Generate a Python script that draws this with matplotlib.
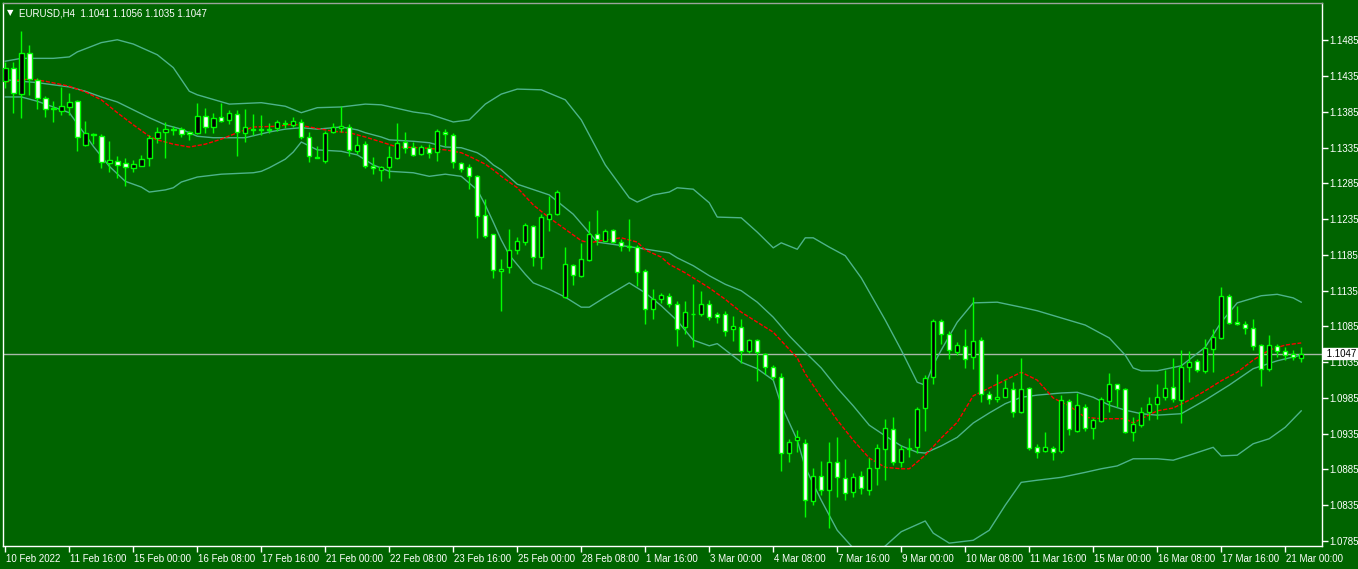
import matplotlib
matplotlib.use("Agg")
import matplotlib.pyplot as plt
from matplotlib.transforms import blended_transform_factory, ScaledTranslation
import numpy as np

plt.rcParams['font.family'] = ['Liberation Sans', 'DejaVu Sans']

# ---------------- data (EURUSD H4) ----------------
open_ = [1.1429, 1.1447, 1.1410, 1.1467, 1.1430, 1.1404, 1.1390, 1.1387, 1.1392, 1.1400,
         1.1339, 1.1354, 1.1352, 1.1313, 1.1316, 1.1313, 1.1306, 1.1310, 1.1320, 1.1349,
         1.1357, 1.1361, 1.1361, 1.1357, 1.1355, 1.1379, 1.1364, 1.1378, 1.1374, 1.1382,
         1.1356, 1.1361, 1.1361, 1.1361, 1.1362, 1.1369, 1.1367, 1.1371, 1.1350, 1.1322,
         1.1317, 1.1357, 1.1363, 1.1364, 1.1331, 1.1340, 1.1310, 1.1304, 1.1308, 1.1320,
         1.1343, 1.1336, 1.1326, 1.1335, 1.1329, 1.1357, 1.1353, 1.1313, 1.1308, 1.1296,
         1.1241, 1.1214, 1.1162, 1.1168, 1.1192, 1.1203, 1.1225, 1.1182, 1.1236, 1.1242,
         1.1126, 1.1171, 1.1155, 1.1178, 1.1214, 1.1205, 1.1220, 1.1203, 1.1197, 1.1196,
         1.1162, 1.1109, 1.1123, 1.1128, 1.1116, 1.1084, 1.1103, 1.1103, 1.1116, 1.1102,
         1.1102, 1.1081, 1.1084, 1.1051, 1.1066, 1.1047, 1.1029, 1.1015, 1.0908, 1.0926,
         1.0922, 1.0841, 1.0876, 1.0857, 1.0895, 1.0873, 1.0853, 1.0876, 1.0857, 1.0887,
         1.0913, 1.0942, 1.0896, 1.0915, 1.0916, 1.0971, 1.1015, 1.1093, 1.1074, 1.1050,
         1.1058, 1.1042, 1.1066, 1.0990, 1.0983, 1.0987, 1.0997, 1.0965, 1.0999, 1.0916,
         1.0911, 1.0915, 1.0911, 1.0981, 1.0939, 1.0973, 1.0943, 1.0953, 1.0981, 1.1004,
         1.0997, 1.0938, 1.0947, 1.0965, 1.0976, 1.0987, 1.1000, 1.0982, 1.1029, 1.1037,
         1.1023, 1.1053, 1.1069, 1.1128, 1.1091, 1.1088, 1.1083, 1.1059, 1.1026, 1.1058,
         1.1051, 1.1046, 1.1041]
high = [1.1455, 1.1455, 1.1498, 1.1479, 1.1433, 1.1407, 1.1401, 1.1420, 1.1411, 1.1402,
        1.1372, 1.1355, 1.1354, 1.1345, 1.1324, 1.1320, 1.1318, 1.1325, 1.1353, 1.1364,
        1.1371, 1.1366, 1.1364, 1.1358, 1.1397, 1.1390, 1.1384, 1.1397, 1.1388, 1.1388,
        1.1389, 1.1382, 1.1381, 1.1369, 1.1374, 1.1374, 1.1378, 1.1375, 1.1357, 1.1337,
        1.1359, 1.1369, 1.1393, 1.1368, 1.1351, 1.1344, 1.1322, 1.1309, 1.1337, 1.1370,
        1.1357, 1.1343, 1.1339, 1.1340, 1.1361, 1.1361, 1.1355, 1.1315, 1.1312, 1.1297,
        1.1263, 1.1215, 1.1179, 1.1222, 1.1210, 1.1230, 1.1227, 1.1243, 1.1268, 1.1276,
        1.1196, 1.1173, 1.1202, 1.1233, 1.1248, 1.1222, 1.1222, 1.1208, 1.1235, 1.1199,
        1.1165, 1.1138, 1.1132, 1.1132, 1.1120, 1.1121, 1.1144, 1.1135, 1.1122, 1.1105,
        1.1107, 1.1099, 1.1095, 1.1067, 1.1067, 1.1048, 1.1031, 1.1020, 1.0927, 1.0940,
        1.0928, 1.0887, 1.0897, 1.0923, 1.0930, 1.0899, 1.0880, 1.0883, 1.0901, 1.0920,
        1.0956, 1.0958, 1.0919, 1.0929, 1.0972, 1.1017, 1.1095, 1.1096, 1.1078, 1.1063,
        1.1081, 1.1126, 1.1070, 1.0995, 1.1018, 1.1010, 1.1008, 1.1041, 1.1001, 1.0921,
        1.0937, 1.0918, 1.0989, 1.0983, 1.0992, 1.0976, 1.0957, 1.0987, 1.1020, 1.1005,
        1.0999, 1.0958, 1.0973, 1.0987, 1.1005, 1.1024, 1.1041, 1.1052, 1.1051, 1.1040,
        1.1067, 1.1082, 1.1140, 1.1131, 1.1113, 1.1092, 1.1095, 1.1061, 1.1073, 1.1061,
        1.1057, 1.1052, 1.1056]
low = [1.1419, 1.1384, 1.1376, 1.1409, 1.1389, 1.1378, 1.1371, 1.1381, 1.1381, 1.1331,
       1.1338, 1.1340, 1.1306, 1.1301, 1.1292, 1.1281, 1.1301, 1.1309, 1.1310, 1.1342,
       1.1320, 1.1353, 1.1350, 1.1346, 1.1354, 1.1356, 1.1355, 1.1371, 1.1368, 1.1324,
       1.1343, 1.1353, 1.1353, 1.1356, 1.1359, 1.1363, 1.1364, 1.1347, 1.1315, 1.1320,
       1.1314, 1.1355, 1.1357, 1.1323, 1.1326, 1.1307, 1.1298, 1.1289, 1.1293, 1.1319,
       1.1327, 1.1324, 1.1325, 1.1321, 1.1317, 1.1337, 1.1307, 1.1301, 1.1277, 1.1209,
       1.1209, 1.1153, 1.1106, 1.1160, 1.1187, 1.1199, 1.1170, 1.1166, 1.1219, 1.1241,
       1.1125, 1.1143, 1.1154, 1.1177, 1.1199, 1.1204, 1.1202, 1.1191, 1.1191, 1.1141,
       1.1089, 1.1096, 1.1118, 1.1112, 1.1058, 1.1075, 1.1057, 1.1100, 1.1094, 1.1090,
       1.1071, 1.1064, 1.1034, 1.1048, 1.1009, 1.1018, 1.1010, 1.0883, 1.0895, 1.0909,
       1.0819, 1.0835, 1.0849, 1.0803, 1.0846, 1.0842, 1.0847, 1.0851, 1.0849, 1.0863,
       1.0870, 1.0891, 1.0888, 1.0903, 1.0908, 1.0939, 1.1004, 1.1061, 1.1040, 1.1045,
       1.1027, 1.1025, 1.0980, 1.0976, 1.0980, 1.0986, 1.0959, 1.0964, 1.0912, 1.0901,
       1.0909, 1.0898, 1.0908, 1.0933, 1.0938, 1.0939, 1.0928, 1.0952, 1.0966, 1.0973,
       1.0936, 1.0925, 1.0944, 1.0954, 1.0955, 1.0982, 1.0980, 1.0950, 1.1008, 1.1022,
       1.1020, 1.1022, 1.1067, 1.1089, 1.1087, 1.1075, 1.1052, 1.1002, 1.1023, 1.1042,
       1.1038, 1.1038, 1.1035]
close = [1.1447, 1.1411, 1.1468, 1.1431, 1.1404, 1.1389, 1.1389, 1.1393, 1.1399, 1.1350,
         1.1355, 1.1353, 1.1315, 1.1318, 1.1311, 1.1308, 1.1312, 1.1319, 1.1348, 1.1357,
         1.1361, 1.1360, 1.1354, 1.1354, 1.1379, 1.1364, 1.1376, 1.1373, 1.1383, 1.1357,
         1.1364, 1.1360, 1.1360, 1.1360, 1.1371, 1.1368, 1.1373, 1.1350, 1.1324, 1.1321,
         1.1355, 1.1364, 1.1365, 1.1332, 1.1339, 1.1310, 1.1306, 1.1308, 1.1322, 1.1342,
         1.1335, 1.1325, 1.1336, 1.1327, 1.1358, 1.1354, 1.1315, 1.1305, 1.1295, 1.1240,
         1.1212, 1.1164, 1.1166, 1.1192, 1.1205, 1.1227, 1.1182, 1.1238, 1.1242, 1.1273,
         1.1172, 1.1157, 1.1179, 1.1214, 1.1207, 1.1219, 1.1203, 1.1197, 1.1196, 1.1161,
         1.1109, 1.1123, 1.1129, 1.1116, 1.1082, 1.1105, 1.1102, 1.1117, 1.1098, 1.1098,
         1.1079, 1.1085, 1.1051, 1.1066, 1.1049, 1.1028, 1.1014, 1.0908, 1.0924, 1.0930,
         1.0842, 1.0876, 1.0856, 1.0896, 1.0874, 1.0852, 1.0874, 1.0859, 1.0887, 1.0915,
         1.0943, 1.0895, 1.0913, 1.0914, 1.0969, 1.1013, 1.1092, 1.1075, 1.1052, 1.1059,
         1.1040, 1.1064, 1.0991, 1.0984, 1.0987, 1.0999, 1.0966, 1.0997, 1.0915, 1.0909,
         1.0916, 1.0910, 1.0982, 1.0941, 1.0975, 1.0943, 1.0954, 1.0983, 1.1004, 1.0997,
         1.0938, 1.0948, 1.0966, 1.0977, 1.0986, 1.0999, 1.0984, 1.1029, 1.1035, 1.1024,
         1.1055, 1.1070, 1.1128, 1.1090, 1.1088, 1.1083, 1.1058, 1.1025, 1.1059, 1.1051,
         1.1045, 1.1042, 1.1047]

# Bollinger bands and moving average, read at bar indices
bb_up_idx = [0, 2, 6, 8, 9, 12, 14, 16, 19, 21, 23, 24, 28, 32, 35, 37, 39, 42, 45, 47,
             51, 53, 56, 58, 60, 62, 64, 67, 70, 72, 74, 75, 78, 79, 81, 83, 84, 86, 88, 89,
             92, 94, 96, 97, 99, 100, 101, 103, 105, 107, 110, 112, 114, 115, 116, 117, 119,
             121, 124, 127, 129, 132, 135, 138, 140, 141, 142, 144, 147, 150, 152, 154, 157,
             159, 161, 162]
bb_up = [1.1456, 1.1460, 1.1460, 1.1462, 1.1469, 1.1482, 1.1486, 1.1480, 1.1465, 1.1447,
         1.1414, 1.1409, 1.1396, 1.1398, 1.1393, 1.1384, 1.1391, 1.1392, 1.1396, 1.1395,
         1.1385, 1.1382, 1.1371, 1.1374, 1.1396, 1.1410, 1.1417, 1.1416, 1.1402, 1.1374,
         1.1332, 1.1311, 1.1265, 1.1259, 1.1269, 1.1273, 1.1279, 1.1277, 1.1258, 1.1238,
         1.1237, 1.1217, 1.1195, 1.1202, 1.1193, 1.1209, 1.1209, 1.1196, 1.1184, 1.1153,
         1.1094, 1.1052, 1.1007, 1.1003, 1.1031, 1.1052, 1.1091, 1.1118, 1.1119, 1.1112,
         1.1107, 1.1097, 1.1087, 1.1069, 1.1045, 1.1027, 1.1023, 1.1023, 1.1030, 1.1056,
         1.1091, 1.1118, 1.1128, 1.1130, 1.1125, 1.1119]

bb_mid_idx = [0, 4, 8, 10, 12, 14, 16, 18, 20, 22, 24, 26, 30, 33, 35, 37, 39, 42, 44, 45,
              47, 48, 51, 53, 55, 57, 59, 60, 61, 62, 64, 68, 71, 74, 79, 83, 84, 86, 88, 90,
              92, 94, 96, 98, 100, 102, 104, 106, 108, 110, 112, 114, 115, 117, 119, 121,
              123, 125, 127, 129, 132, 134, 136, 138, 140, 142, 144, 147, 150, 153, 156, 159,
              162]
bb_mid = [1.1430, 1.1426, 1.1420, 1.1414, 1.1406, 1.1399, 1.1388, 1.1377, 1.1367, 1.1361,
          1.1351, 1.1349, 1.1349, 1.1357, 1.1361, 1.1363, 1.1361, 1.1364, 1.1360, 1.1356,
          1.1350, 1.1346, 1.1344, 1.1342, 1.1336, 1.1335, 1.1328, 1.1321, 1.1311, 1.1304,
          1.1284, 1.1269, 1.1242, 1.1203, 1.1195, 1.1188, 1.1181, 1.1170, 1.1156, 1.1144,
          1.1135, 1.1119, 1.1098, 1.1072, 1.1049, 1.1027, 1.0999, 1.0974, 1.0947, 1.0932,
          1.0918, 1.0909, 1.0908, 1.0918, 1.0930, 1.0950, 1.0964, 1.0977, 1.0986, 1.0989,
          1.0992, 1.0993, 1.0986, 1.0975, 1.0968, 1.0963, 1.0961, 1.0963, 1.0982, 1.1003,
          1.1026, 1.1037, 1.1045]

bb_lo_idx = [0, 2, 4, 6, 8, 10, 11, 13, 15, 17, 18, 20, 21, 22, 24, 27, 31, 32, 33, 35,
             36, 37, 39, 42, 44, 46, 48, 51, 53, 55, 57, 59, 60, 61, 62, 63, 65, 66, 68, 70,
             72, 73, 75, 78, 80, 82, 84, 86, 88, 89, 92, 94, 96, 97, 99, 100, 102, 104, 106,
             108, 110, 112, 115, 116, 118, 121, 123, 125, 127, 129, 132, 135, 137, 139, 141,
             144, 146, 148, 151, 152, 154, 156, 158, 160, 162]
bb_lo = [1.1406, 1.1406, 1.1400, 1.1392, 1.1384, 1.1353, 1.1337, 1.1309, 1.1288, 1.1280,
         1.1273, 1.1276, 1.1279, 1.1287, 1.1294, 1.1298, 1.1300, 1.1302, 1.1307, 1.1319,
         1.1329, 1.1343, 1.1332, 1.1330, 1.1325, 1.1311, 1.1302, 1.1300, 1.1295, 1.1298,
         1.1295, 1.1276, 1.1255, 1.1231, 1.1206, 1.1185, 1.1158, 1.1146, 1.1137, 1.1126,
         1.1112, 1.1112, 1.1126, 1.1146, 1.1132, 1.1114, 1.1093, 1.1066, 1.1058, 1.1061,
         1.1035, 1.1026, 1.1010, 1.0975, 1.0926, 1.0888, 1.0842, 1.0800, 1.0775, 1.0758,
         1.0778, 1.0798, 1.0813, 1.0796, 1.0782, 1.0786, 1.0800, 1.0835, 1.0867, 1.0870,
         1.0874, 1.0881, 1.0886, 1.0890, 1.0900, 1.0900, 1.0898, 1.0905, 1.0916, 1.0904,
         1.0905, 1.0921, 1.0928, 1.0944, 1.0967]

ma_idx = [0, 2, 3, 5, 8, 10, 12, 14, 16, 18, 19, 21, 23, 25, 27, 29, 31, 34, 36, 38,
          41, 43, 45, 47, 49, 52, 55, 57, 58, 60, 61, 62, 63, 64, 66, 68, 72, 73, 75, 77,
          79, 80, 82, 83, 85, 88, 90, 92, 94, 96, 97, 99, 100, 102, 104, 106, 108, 110, 112,
          113, 115, 117, 119, 121, 123, 125, 127, 129, 131, 133, 135, 137, 140, 141, 142,
          144, 146, 148, 150, 152, 154, 156, 158, 160, 162]
ma = [1.1427, 1.1430, 1.1431, 1.1428, 1.1421, 1.1413, 1.1402, 1.1384, 1.1367, 1.1351,
      1.1346, 1.1340, 1.1336, 1.1340, 1.1347, 1.1356, 1.1364, 1.1365, 1.1368, 1.1364,
      1.1358, 1.1356, 1.1350, 1.1343, 1.1336, 1.1335, 1.1332, 1.1328, 1.1323, 1.1312,
      1.1304, 1.1295, 1.1287, 1.1279, 1.1255, 1.1237, 1.1205, 1.1202, 1.1206, 1.1209,
      1.1203, 1.1192, 1.1182, 1.1172, 1.1160, 1.1139, 1.1123, 1.1105, 1.1091, 1.1077,
      1.1065, 1.1041, 1.1019, 1.0986, 1.0954, 1.0926, 1.0901, 1.0888, 1.0886, 1.0886,
      1.0905, 1.0929, 1.0951, 1.0988, 1.0999, 1.1010, 1.1021, 1.1010, 1.0985, 1.0974,
      1.0958, 1.0956, 1.0956, 1.0950, 1.0956, 1.0967, 1.0971, 1.0982, 1.0995, 1.1009,
      1.1021, 1.1038, 1.1052, 1.1059, 1.1062]

price_ticks = [1.1485, 1.1435, 1.1385, 1.1335, 1.1285, 1.1235, 1.1185, 1.1135, 1.1085,
               1.1035, 1.0985, 1.0935, 1.0885, 1.0835, 1.0785]
date_tick_idx = list(range(0, 161, 8))
date_labels = ["10 Feb 2022", "11 Feb 16:00", "15 Feb 00:00", "16 Feb 08:00", "17 Feb 16:00",
               "21 Feb 00:00", "22 Feb 08:00", "23 Feb 16:00", "25 Feb 00:00", "28 Feb 08:00",
               "1 Mar 16:00", "3 Mar 00:00", "4 Mar 08:00", "7 Mar 16:00", "9 Mar 00:00",
               "10 Mar 08:00", "11 Mar 16:00", "15 Mar 00:00", "16 Mar 08:00", "17 Mar 16:00",
               "21 Mar 00:00"]
symbol = "EURUSD,H4"
bid = close[-1]

# ---------------- style ----------------
BG = '#006400'
LIME = '#00FF00'
BAND = '#4DB38A'
W, H = 1358, 569

fig = plt.figure(figsize=(W / 100, H / 100), dpi=100, facecolor=BG)
Lp, Rp, Tp, Bp = 3, 1322, 3, 546
ax = fig.add_axes([Lp / W, 1 - Bp / H, (Rp - Lp) / W, (Bp - Tp) / H])
ax.set_facecolor(BG)
ax.set_xlim(-0.29, 164.6)
ax.set_ylim(1.07780, 1.15374)

# indicator lines
ax.plot(bb_up_idx, bb_up, color=BAND, lw=1.0, zorder=2)
ax.plot(bb_mid_idx, bb_mid, color=BAND, lw=1.0, zorder=2)
ax.plot(bb_lo_idx, bb_lo, color=BAND, lw=1.0, zorder=2)
ax.plot(ma_idx, ma, color='#FF0000', lw=1.0, ls=(0, (3, 1.2)), zorder=2)

# bid line
ax.axhline(bid, color='#A8B8A8', lw=1.0, zorder=1.5)

# candles
idx = np.arange(len(close))
o = np.array(open_); c = np.array(close); h = np.array(high); l = np.array(low)
ax.vlines(idx, l, h, color=LIME, lw=1.0, zorder=3)
bull = c > o
fills = np.where(bull, 'black', 'white')
body_lo = np.minimum(o, c)
body_h = np.abs(c - o)
ax.bar(idx, body_h, bottom=body_lo, width=0.55, color=fills, edgecolor=LIME,
       linewidth=1.0, zorder=4)
flat = body_h < 0.00008
ax.hlines(c[flat], idx[flat] - 0.3, idx[flat] + 0.3, color=LIME, lw=1.2, zorder=5)

# axes styling
for s in ['left', 'right', 'bottom', 'top']:
    ax.spines[s].set_color('white')
    ax.spines[s].set_linewidth(1.0)
ax.spines['top'].set_color('#9AA49A')
ax.yaxis.tick_right()
ax.set_yticks(price_ticks)
ax.set_yticklabels([f"{v:.4f}" for v in price_ticks])
ax.set_xticks(date_tick_idx)
ax.set_xticklabels(date_labels)
ax.tick_params(axis='both', colors='white', length=4, width=1, labelsize=7)
ax.tick_params(axis='y', pad=1.5)
ax.tick_params(axis='x', pad=1.5)
for lbl in ax.get_xticklabels():
    lbl.set_ha('left')
    lbl.set_transform(lbl.get_transform() + ScaledTranslation(1 / 100, 0, fig.dpi_scale_trans))

# bid price label on the axis
trans = blended_transform_factory(ax.transAxes, ax.transData)
ax.text(1.0015, bid, f" {bid:.4f} ", transform=trans, ha='left', va='center', fontsize=7,
        color='black', zorder=10, clip_on=False,
        bbox=dict(boxstyle='square,pad=0.05', fc='white', ec='white'))

# header
fig.text(7 / W, 1 - 13 / H, "\u25BC", color='white', fontsize=6, va='center', ha='left',
         family='DejaVu Sans')
fig.text(19 / W, 1 - 13 / H,
         f"{symbol}  {open_[-1]:.4f} {high[-1]:.4f} {low[-1]:.4f} {close[-1]:.4f}",
         color='white', fontsize=7, va='center', ha='left')

fig.savefig('out.png', dpi=100, facecolor=BG)
